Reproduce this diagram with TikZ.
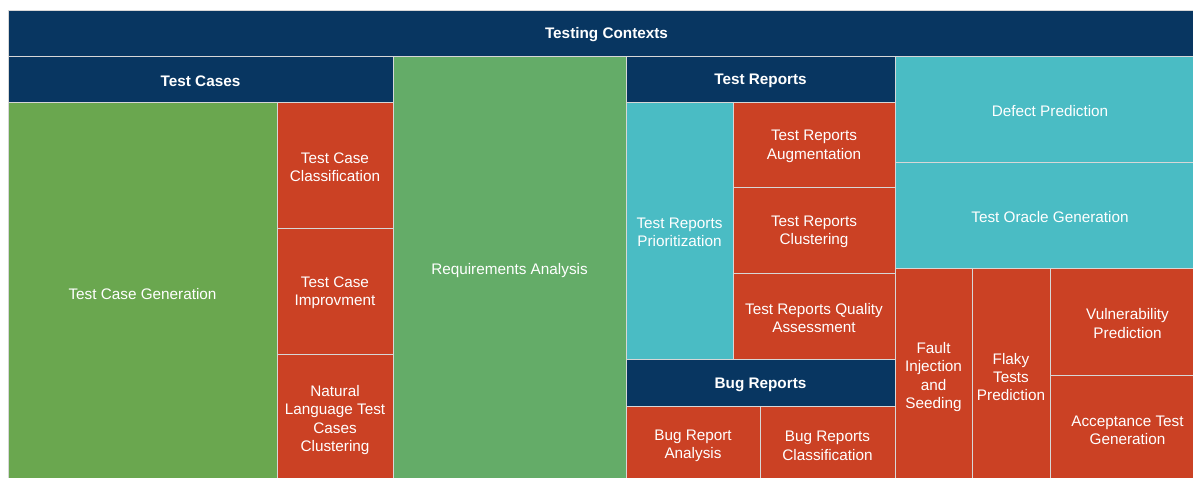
\documentclass[tikz,border=0pt]{standalone}
\usepackage{fontspec}
\setmainfont{Liberation Sans}
\definecolor{navy}{RGB}{8,54,97}
\definecolor{gA}{RGB}{106,167,79}
\definecolor{gB}{RGB}{100,172,104}
\definecolor{teal}{RGB}{74,188,196}
\definecolor{redc}{RGB}{203,65,36}
\definecolor{edge}{RGB}{215,215,215}
\newcommand\mycell[7]{%
  \node[cellbox, fill=#6, minimum width={(#4-#2)*1pt}, minimum height={(#5-#3)*1pt}]
    (#1) at ({(#2+#4)/2},{(#3+#5)/2}) {};
  \node[celltext] (#1t) at ([yshift=-2pt]#1.center) {#7};}
\begin{document}
\begin{tikzpicture}[x=1pt,y=-1pt,
  cellbox/.style={draw=edge, line width=0.8pt, rectangle, inner sep=0pt, outer sep=0pt},
  celltext/.style={text=white, align=center, inner sep=0pt, font=\fontsize{15.3}{18.4}\selectfont}]
\useasboundingbox (0,0) rectangle (1193,477);
\clip (0,0) rectangle (1193,477);
\mycell{top}{8}{10}{1205}{56}{navy}{\textbf{Testing Contexts}}
\mycell{tc}{8}{56}{393}{102}{navy}{\textbf{Test Cases}}
\mycell{tcg}{8}{102}{277}{482}{gA}{Test Case Generation}
\mycell{tcc}{277}{102}{393}{228}{redc}{Test Case\\Classification}
\mycell{tci}{277}{228}{393}{354}{redc}{Test Case\\Improvment}
\mycell{nl}{277}{354}{393}{482}{redc}{Natural\\Language Test\\Cases\\Clustering}
\mycell{ra}{393}{56}{626}{482}{gB}{Requirements Analysis}
\mycell{tr}{626}{56}{895}{102}{navy}{\textbf{Test Reports}}
\mycell{trp}{626}{102}{733}{359}{teal}{Test Reports\\Prioritization}
\mycell{tra}{733}{102}{895}{187}{redc}{Test Reports\\Augmentation}
\mycell{trc}{733}{187}{895}{273}{redc}{Test Reports\\Clustering}
\mycell{trq}{733}{273}{895}{359}{redc}{Test Reports Quality\\Assessment}
\mycell{br}{626}{359}{895}{406}{navy}{\textbf{Bug Reports}}
\mycell{bra}{626}{406}{760}{482}{redc}{Bug Report\\Analysis}
\mycell{brc}{760}{406}{895}{482}{redc}{Bug Reports\\Classification}
\mycell{dp}{895}{56}{1205}{162}{teal}{Defect Prediction}
\mycell{tog}{895}{162}{1205}{268}{teal}{Test Oracle Generation}
\mycell{fi}{895}{268}{972}{482}{redc}{Fault\\Injection\\and\\Seeding}
\mycell{ft}{972}{268}{1050}{482}{redc}{Flaky\\Tests\\Prediction}
\mycell{vp}{1050}{268}{1205}{375}{redc}{Vulnerability\\Prediction}
\mycell{at}{1050}{375}{1205}{482}{redc}{Acceptance Test\\Generation}
\end{tikzpicture}
\end{document}
